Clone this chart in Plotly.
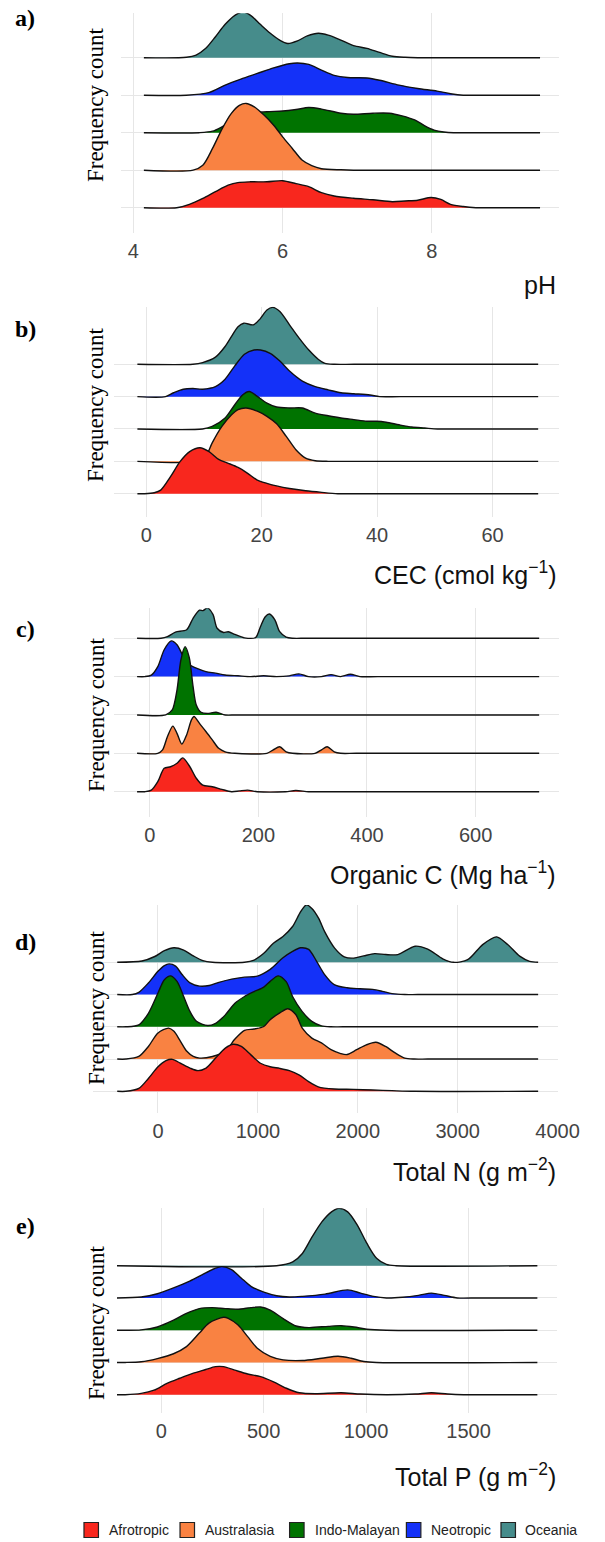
import plotly.graph_objects as go

W, H = 605, 1542

REGIONS = ["Afrotropic", "Australasia", "Indo-Malayan", "Neotropic", "Oceania"]
COLORS = ["#F8271E", "#F98242", "#007300", "#1431F8", "#468C8B"]

# ---------------- a) pH ----------------
PH_X = {
    "Oceania": [4.14, 4.71, 4.84, 4.97, 5.10, 5.23, 5.36, 5.47, 5.57, 5.70, 5.83, 5.96, 6.07, 6.20, 6.33, 6.48, 6.61, 6.78, 6.95, 7.13, 7.30, 7.47, 7.64, 7.81, 8.1, 9.45],
    "Neotropic": [4.14, 4.71, 5.01, 5.23, 5.44, 5.66, 5.88, 6.09, 6.20, 6.35, 6.52, 6.69, 6.87, 7.13, 7.30, 7.56, 7.81, 8.07, 8.25, 8.42, 8.6, 9.45],
    "Indo-Malayan": [4.14, 4.88, 5.06, 5.23, 5.40, 5.57, 5.79, 6.00, 6.18, 6.35, 6.52, 6.78, 6.95, 7.21, 7.43, 7.60, 7.77, 7.90, 8.03, 8.16, 8.29, 8.5, 9.45],
    "Australasia": [4.14, 4.80, 4.93, 5.06, 5.19, 5.31, 5.42, 5.51, 5.62, 5.75, 5.88, 6.00, 6.13, 6.26, 6.39, 6.52, 6.78, 6.95, 9.45],
    "Afrotropic": [4.14, 4.58, 4.75, 4.93, 5.10, 5.27, 5.40, 5.57, 5.79, 6.00, 6.18, 6.35, 6.52, 6.69, 6.95, 7.21, 7.47, 7.64, 7.81, 7.99, 8.12, 8.25, 8.42, 8.59, 8.8, 9.45],
}
PH_H = {
    "Oceania": [0, 0.01, 0.07, 0.25, 0.56, 0.89, 1.13, 1.22, 1.13, 0.89, 0.66, 0.47, 0.38, 0.45, 0.58, 0.65, 0.60, 0.47, 0.32, 0.25, 0.14, 0.04, 0.01, 0, 0, 0],
    "Neotropic": [0, 0, 0.07, 0.27, 0.43, 0.58, 0.73, 0.84, 0.86, 0.82, 0.67, 0.53, 0.47, 0.46, 0.40, 0.27, 0.18, 0.11, 0.04, 0.0, 0, 0],
    "Indo-Malayan": [0, 0, 0.04, 0.20, 0.35, 0.52, 0.56, 0.58, 0.62, 0.67, 0.63, 0.52, 0.49, 0.52, 0.52, 0.45, 0.34, 0.19, 0.07, 0.02, 0, 0, 0],
    "Australasia": [0, 0, 0.13, 0.58, 1.11, 1.51, 1.73, 1.78, 1.69, 1.47, 1.20, 0.89, 0.58, 0.27, 0.12, 0.04, 0.01, 0, 0],
    "Afrotropic": [0, 0, 0.09, 0.25, 0.43, 0.60, 0.67, 0.69, 0.69, 0.72, 0.64, 0.56, 0.40, 0.31, 0.25, 0.21, 0.16, 0.18, 0.20, 0.27, 0.22, 0.09, 0.03, 0, 0, 0],
}

# ---------------- b) CEC ----------------
CEC_X = {
    "Oceania": [-1.53, 8.09, 9.76, 11.99, 13.66, 14.78, 15.90, 16.90, 18.57, 19.80, 20.91, 21.92, 23.15, 24.82, 26.49, 28.17, 29.84, 30.95, 32.63, 36, 67.9],
    "Neotropic": [-1.53, 3.35, 4.74, 6.41, 8.09, 9.76, 11.99, 13.66, 15.34, 17.01, 18.68, 19.80, 21.47, 23.15, 24.82, 27.05, 29.28, 31.51, 33.74, 35.97, 38.76, 40.44, 44, 67.9],
    "Indo-Malayan": [-1.53, 9.76, 11.43, 13.66, 15.34, 16.73, 17.85, 19.24, 20.91, 22.59, 24.82, 27.05, 29.28, 31.51, 33.74, 35.97, 38.20, 39.88, 41.55, 43.78, 46.01, 48.24, 50.47, 54, 67.9],
    "Australasia": [-1.53, 9.20, 10.32, 11.43, 13.11, 14.78, 15.90, 17.29, 19.24, 20.91, 22.59, 24.26, 25.93, 27.61, 29.28, 31.51, 35, 67.9],
    "Afrotropic": [-1.53, -0.28, 1.39, 2.51, 4.18, 5.86, 7.53, 9.31, 10.88, 12.55, 14.22, 15.90, 17.57, 19.24, 20.91, 22.59, 24.82, 27.61, 30.40, 33.18, 37, 67.9],
}
CEC_H = {
    "Oceania": [0, 0, 0.05, 0.22, 0.55, 0.86, 1.16, 1.27, 1.22, 1.42, 1.68, 1.76, 1.63, 1.22, 0.81, 0.44, 0.15, 0.03, 0, 0, 0],
    "Neotropic": [0, 0, 0.12, 0.23, 0.25, 0.23, 0.31, 0.54, 0.95, 1.31, 1.44, 1.44, 1.34, 1.10, 0.79, 0.48, 0.31, 0.21, 0.12, 0.09, 0.05, 0.0, 0, 0],
    "Indo-Malayan": [0, 0, 0.08, 0.34, 0.75, 1.06, 1.16, 1.01, 0.80, 0.68, 0.65, 0.65, 0.49, 0.41, 0.34, 0.29, 0.24, 0.24, 0.21, 0.13, 0.06, 0.03, 0, 0, 0],
    "Australasia": [0, 0, 0.15, 0.57, 1.08, 1.44, 1.60, 1.65, 1.55, 1.39, 1.16, 0.77, 0.36, 0.10, 0.02, 0, 0, 0],
    "Afrotropic": [0, 0, 0.03, 0.11, 0.52, 0.99, 1.30, 1.42, 1.30, 1.06, 0.94, 0.81, 0.63, 0.42, 0.32, 0.24, 0.16, 0.09, 0.04, 0, 0, 0],
}

# ---------------- c) Organic C ----------------
OC_X = {
    "Oceania": [-23.3, 20.7, 32.5, 47.3, 67.9, 79.8, 91.6, 98.0, 106.3, 116.4, 124.1, 135.9, 144.7, 156.6, 174.3, 195.0, 203.8, 212.7, 220.4, 230.4, 239.3, 251.1, 262.9, 290, 717],
    "Neotropic": [-23.3, -8.9, 3.0, 14.8, 26.6, 39.6, 50.2, 62.0, 73.9, 85.7, 103.4, 121.1, 138.8, 162.5, 186.1, 209.7, 233.4, 257.0, 274.7, 292.4, 316.1, 333.8, 351.5, 369.3, 387.0, 420, 717],
    "Indo-Malayan": [-23.3, 29.5, 41.4, 50.2, 57.3, 65.0, 72.7, 79.8, 85.7, 94.5, 106.3, 122.3, 138.8, 160, 717],
    "Australasia": [-23.3, 14.8, 23.6, 32.5, 42.5, 50.2, 59.1, 67.9, 76.8, 81.5, 91.6, 103.4, 115.2, 127.0, 138.8, 156.6, 215.6, 227.4, 239.3, 251.1, 262.9, 304.3, 316.1, 326.7, 339.7, 351.5, 380, 717],
    "Afrotropic": [-23.3, -8.9, 3.0, 14.8, 26.6, 38.4, 50.2, 60.8, 73.9, 85.7, 97.5, 115.2, 132.9, 150.6, 165, 180.2, 197.9, 250, 268.8, 292.4, 320, 717],
}
OC_H = {
    "Oceania": [0, 0, 0.04, 0.16, 0.22, 0.52, 0.73, 0.72, 0.79, 0.62, 0.26, 0.15, 0.17, 0.10, 0.01, 0.02, 0.30, 0.56, 0.63, 0.48, 0.17, 0.03, 0, 0, 0],
    "Neotropic": [0, 0, 0.04, 0.26, 0.70, 0.93, 0.83, 0.52, 0.30, 0.22, 0.13, 0.09, 0.04, 0.02, 0.00, 0.02, 0.00, 0.02, 0.07, 0.0, 0.0, 0.05, 0.0, 0.06, 0, 0, 0],
    "Indo-Malayan": [0, 0, 0.13, 0.65, 1.43, 1.78, 1.50, 0.74, 0.26, 0.07, 0.04, 0.07, 0, 0, 0],
    "Australasia": [0, 0, 0.09, 0.43, 0.71, 0.52, 0.24, 0.48, 0.87, 0.96, 0.78, 0.57, 0.35, 0.13, 0.04, 0, 0, 0.09, 0.17, 0.04, 0, 0, 0.09, 0.17, 0.04, 0, 0, 0],
    "Afrotropic": [0, 0, 0.04, 0.26, 0.61, 0.65, 0.74, 0.88, 0.65, 0.35, 0.17, 0.13, 0.06, 0.0, 0.02, 0.04, 0, 0, 0.03, 0, 0, 0],
}

# ---------------- d) Total N ----------------
TN_X = {
    "Oceania": [-408, -160, -32, 64, 160, 257, 353, 449, 545, 866, 962, 1059, 1155, 1251, 1347, 1428, 1485, 1540, 1607, 1668, 1768, 1864, 1961, 2060, 2169, 2280, 2400, 2573, 2700, 2850, 2957, 3100, 3250, 3389, 3500, 3620, 3720, 3805],
    "Neotropic": [-408, -257, -192, -96, 0, 64, 112, 176, 241, 321, 417, 513, 610, 738, 866, 994, 1123, 1251, 1347, 1428, 1508, 1588, 1668, 1764, 1893, 2021, 2149, 2246, 2342, 2470, 2600, 3805],
    "Indo-Malayan": [-408, -321, -192, -96, 0, 64, 128, 192, 257, 321, 385, 497, 577, 674, 770, 866, 962, 1059, 1123, 1203, 1283, 1347, 1444, 1540, 1636, 1732, 1850, 3805],
    "Australasia": [-408, -321, -192, -96, 0, 106, 160, 225, 289, 353, 417, 545, 674, 770, 866, 962, 1059, 1123, 1219, 1299, 1379, 1444, 1540, 1636, 1732, 1829, 1893, 1989, 2085, 2181, 2278, 2374, 2470, 2566, 2700, 3805],
    "Afrotropic": [-408, -321, -192, -96, 0, 80, 144, 225, 321, 401, 481, 577, 674, 754, 834, 930, 1026, 1123, 1219, 1315, 1411, 1508, 1604, 1764, 1957, 2149, 2342, 2566, 3805],
}
TN_H = {
    "Oceania": [0, 0.04, 0.18, 0.36, 0.45, 0.38, 0.20, 0.05, 0, 0, 0.07, 0.28, 0.59, 0.80, 1.11, 1.57, 1.78, 1.67, 1.37, 0.95, 0.44, 0.17, 0.13, 0.20, 0.27, 0.24, 0.24, 0.50, 0.41, 0.11, 0.0, 0.08, 0.55, 0.79, 0.55, 0.19, 0.03, 0],
    "Neotropic": [0, 0, 0.07, 0.36, 0.72, 0.90, 0.95, 0.88, 0.62, 0.36, 0.26, 0.28, 0.38, 0.48, 0.54, 0.57, 0.78, 1.14, 1.34, 1.45, 1.40, 1.03, 0.62, 0.31, 0.21, 0.18, 0.16, 0.10, 0.03, 0, 0, 0],
    "Indo-Malayan": [0, 0, 0.06, 0.42, 1.05, 1.46, 1.58, 1.40, 0.94, 0.47, 0.17, 0.04, 0.11, 0.37, 0.73, 0.94, 1.09, 1.23, 1.41, 1.58, 1.40, 0.94, 0.47, 0.17, 0.03, 0, 0, 0],
    "Australasia": [0, 0, 0.08, 0.39, 0.81, 0.96, 0.86, 0.55, 0.24, 0.08, 0.03, 0.08, 0.24, 0.62, 0.89, 0.93, 1.01, 1.22, 1.43, 1.56, 1.38, 0.96, 0.65, 0.50, 0.29, 0.17, 0.14, 0.29, 0.44, 0.52, 0.39, 0.19, 0.03, 0, 0, 0],
    "Afrotropic": [0, 0, 0.09, 0.40, 0.76, 0.95, 0.99, 0.87, 0.72, 0.64, 0.72, 1.03, 1.34, 1.46, 1.39, 1.13, 0.87, 0.76, 0.71, 0.64, 0.51, 0.30, 0.14, 0.07, 0.06, 0.04, 0.02, 0, 0],
}

# ---------------- e) Total P ----------------
TP_X = {
    "Oceania": [-216, 563, 642, 689, 737, 784, 831, 867, 910, 957, 1004, 1051, 1099, 1146, 1836],
    "Neotropic": [-216, -98, -19, 60, 139, 201, 249, 296, 343, 390, 438, 501, 563, 626, 689, 800, 910, 973, 1036, 1099, 1177, 1256, 1319, 1382, 1445, 1550, 1836],
    "Indo-Malayan": [-216, -176, -98, -19, 60, 123, 186, 249, 312, 375, 438, 485, 532, 595, 658, 721, 815, 878, 941, 1004, 1099, 1836],
    "Australasia": [-216, -176, -98, -19, 60, 123, 186, 233, 304, 327, 375, 422, 469, 532, 595, 689, 784, 863, 926, 989, 1051, 1836],
    "Afrotropic": [-216, -176, -98, -35, 28, 91, 154, 217, 264, 304, 359, 422, 485, 548, 611, 674, 752, 878, 973, 1099, 1240, 1319, 1398, 1476, 1836],
}
TP_H = {
    "Oceania": [0, 0, 0.12, 0.38, 0.90, 1.36, 1.67, 1.78, 1.67, 1.26, 0.69, 0.23, 0.04, 0, 0],
    "Neotropic": [0, 0.03, 0.13, 0.31, 0.52, 0.72, 0.88, 0.97, 0.88, 0.62, 0.36, 0.18, 0.07, 0.03, 0.05, 0.12, 0.25, 0.15, 0.05, 0, 0.02, 0.08, 0.15, 0.08, 0, 0, 0],
    "Indo-Malayan": [0, 0, 0.01, 0.10, 0.31, 0.52, 0.67, 0.70, 0.67, 0.65, 0.70, 0.72, 0.62, 0.36, 0.13, 0.08, 0.12, 0.14, 0.10, 0.03, 0, 0],
    "Australasia": [0, 0, 0.02, 0.12, 0.27, 0.49, 0.91, 1.22, 1.40, 1.37, 1.16, 0.80, 0.44, 0.19, 0.08, 0.06, 0.13, 0.19, 0.13, 0.03, 0, 0],
    "Afrotropic": [0, 0, 0.04, 0.14, 0.35, 0.51, 0.66, 0.78, 0.87, 0.87, 0.76, 0.64, 0.56, 0.40, 0.20, 0.06, 0.03, 0.06, 0.02, 0, 0.02, 0.06, 0.02, 0, 0],
}

PANEL_LABELS = ["a)", "b)", "c)", "d)", "e)"]
AXIS_TITLES = ["pH", "CEC (cmol kg<sup>\u22121</sup>)", "Organic C (Mg ha<sup>\u22121</sup>)",
               "Total N (g m<sup>\u22122</sup>)", "Total P (g m<sup>\u22122</sup>)"]
TICKS = [[4, 6, 8], [0, 20, 40, 60], [0, 200, 400, 600], [0, 1000, 2000, 3000, 4000], [0, 500, 1000, 1500]]
XS = [PH_X, CEC_X, OC_X, TN_X, TP_X]
HS = [PH_H, CEC_H, OC_H, TN_H, TP_H]

# layout geometry in pixels (left, right, top, bottom, x range, y range, title y, label y, y-title y)
GEOM = [
    dict(L=125.4, R=578.7, top=13.3, bot=233.3, xr=[3.834, 9.699], yr=[-0.683, 5.184], ty=285, ly=18, fy=105),
    dict(L=117.7, R=578.7, top=306.7, bot=516.7, xr=[-5.65, 71.44], yr=[-0.711, 5.78], ty=573, ly=329, fy=405),
    dict(L=117.7, R=578.7, top=608.3, bot=816.7, xr=[-66.5, 752.8], yr=[-0.652, 4.78], ty=873, ly=629, fy=715),
    dict(L=96.5, R=578.5, top=905.0, bot=1113.3, xr=[-649, 4008], yr=[-0.682, 5.777], ty=1170, ly=942, fy=1008),
    dict(L=121.2, R=577.5, top=1208.3, bot=1413.3, xr=[-216, 1934], yr=[-0.577, 5.78], ty=1475, ly=1226, fy=1323),
]

SANS = "Liberation Sans, Arial, sans-serif"
SERIF = "Liberation Serif, Times New Roman, serif"

fig = go.Figure()
annotations = []
shapes = []
layout_axes = {}

for p in range(5):
    g = GEOM[p]
    sfx = "" if p == 0 else str(p + 1)
    xa, ya = "x" + sfx, "y" + sfx
    # draw from top ridge (Oceania) down to bottom (Afrotropic) so lower ridges overlay
    for idx in range(len(REGIONS) - 1, -1, -1):
        reg = REGIONS[idx]
        xs = XS[p][reg]
        ys = [idx + v for v in HS[p][reg]]
        fig.add_trace(go.Scatter(
            x=xs, y=ys, xaxis=xa, yaxis=ya, mode="lines",
            fill="toself", fillcolor=COLORS[idx],
            line=dict(color="#111111", width=1.4, shape="spline", smoothing=0.8),
            name=reg, showlegend=False, hoverinfo="skip"))

    layout_axes["xaxis" + sfx] = dict(
        domain=[g["L"] / W, g["R"] / W], range=g["xr"], anchor=ya,
        tickvals=TICKS[p], ticktext=[str(t) for t in TICKS[p]],
        showgrid=True, gridcolor="#E6E6E6", gridwidth=1.3, zeroline=False,
        showline=False, ticks="", ticklabelstandoff=4,
        tickfont=dict(family=SANS, size=20, color="#444444"))
    layout_axes["yaxis" + sfx] = dict(
        domain=[1 - g["bot"] / H, 1 - g["top"] / H], range=g["yr"], anchor=xa,
        tickvals=[0, 1, 2, 3, 4], showticklabels=False, showgrid=True,
        gridcolor="#E6E6E6", gridwidth=1.3, zeroline=False, showline=False, ticks="")

    annotations.append(dict(
        text=AXIS_TITLES[p], x=578 / W, y=1 - g["ty"] / H, xref="paper", yref="paper",
        xanchor="right", yanchor="middle", showarrow=False,
        font=dict(family=SANS, size=25, color="#111111")))
    annotations.append(dict(
        text="<b>" + PANEL_LABELS[p] + "</b>", x=26 / W, y=1 - g["ly"] / H, xref="paper", yref="paper",
        xanchor="center", yanchor="middle", showarrow=False,
        font=dict(family=SERIF, size=24, color="#000000")))
    annotations.append(dict(
        text="Frequency count", x=99.5 / W, y=1 - g["fy"] / H, xref="paper", yref="paper",
        xanchor="center", yanchor="middle", textangle=-90, showarrow=False,
        font=dict(family=SERIF, size=23, color="#000000")))

# custom legend at the bottom
LEG_SQ = [87, 186.5, 300, 421, 519]
LEG_TX = [111, 210.5, 324, 444, 542]
LEG_Y = 1530
for i, reg in enumerate(REGIONS):
    shapes.append(dict(type="rect", xref="paper", yref="paper",
                       x0=LEG_SQ[i] / W, x1=(LEG_SQ[i] + 15) / W,
                       y0=1 - (LEG_Y + 7.5) / H, y1=1 - (LEG_Y - 7.5) / H,
                       fillcolor=COLORS[i], line=dict(color="#222222", width=1.2)))
    annotations.append(dict(text=reg, x=LEG_TX[i] / W, y=1 - LEG_Y / H, xref="paper", yref="paper",
                            xanchor="left", yanchor="middle", showarrow=False,
                            font=dict(family=SANS, size=14, color="#222222")))

fig.update_layout(
    width=W, height=H, margin=dict(l=0, r=0, t=0, b=0),
    paper_bgcolor="white", plot_bgcolor="white",
    showlegend=False, annotations=annotations, shapes=shapes,
    **layout_axes)

fig.write_html("out.html")
